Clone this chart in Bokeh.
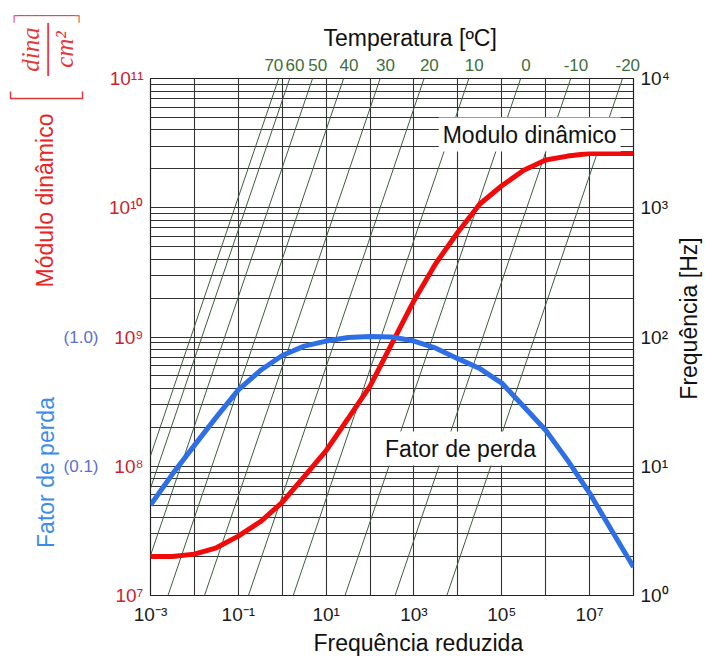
import numpy as np
from bokeh.plotting import figure
from bokeh.layouts import row
from bokeh.models import (Range1d, LogScale, LogAxis, FixedTicker, Label, Title)
from bokeh.core.properties import value
from bokeh.embed import file_html
from bokeh.resources import INLINE

# ---------------- data ----------------
# reduced frequency for the dynamic modulus curve
mod_freq = [1e-3, 3.16e-3, 1e-2, 3.16e-2, 1e-1, 3.16e-1, 1e0, 3.16e0, 1e1, 3.16e1, 1e2,
            3.16e2, 1e3, 3.16e3, 1e4, 3.16e4, 1e5, 3.16e5, 1e6, 3.16e6, 1e7, 1e8]
# dynamic modulus [dina/cm^2]
modulus = [2.0e7, 2.0e7, 2.09e7, 2.34e7, 2.88e7, 3.72e7, 5.25e7, 8.32e7, 1.32e8, 2.34e8, 4.17e8,
           8.91e8, 1.91e9, 3.72e9, 6.46e9, 1.07e10, 1.48e10, 1.95e10, 2.34e10, 2.51e10, 2.63e10, 2.63e10]

# reduced frequency for the loss factor curve
loss_freq = [1e-3, 3.16e-3, 1e-2, 3.16e-2, 1e-1, 3.16e-1, 1e0, 3.16e0, 1e1, 3.16e1, 1e2,
             3.16e2, 1e3, 3.16e3, 1e4, 3.16e4, 1e5, 3.16e5, 1e6, 3.16e6, 1e7, 3.16e7, 1e8]
loss_factor = [0.050, 0.087, 0.145, 0.24, 0.39, 0.55, 0.72, 0.85, 0.93, 0.99, 1.01,
               1.00, 0.93, 0.82, 0.68, 0.57, 0.44, 0.29, 0.19, 0.111, 0.062, 0.032, 0.0166]

# isotherms: temperature [ºC] and shift factor aT  (f_reduced = aT * f)
temps = ["70", "60", "50", "40", "30", "20", "10", "0", "-10", "-20"]
shift_factor = [8.3e-5, 1.48e-4, 4.9e-4, 2.5e-3, 1.7e-2, 0.17, 1.78, 26.9, 372.0, 5620.0]

# axis tick exponents
x_label_exp = [-3, -1, 1, 3, 5, 7]
x_grid_exp = list(range(-3, 9))
mod_exp = [7, 8, 9, 10, 11]
freq_exp = [0, 1, 2, 3, 4]
loss_ticks = [0.1, 1.0]
loss_labels = ["(0.1)", "(1.0)"]

# ---------------- layout constants ----------------
W, H = 705, 659
LW, RW = 106, 31                # widths of the left / right text strips
FL, FR, BT, BB = 147, 633, 78, 64  # frame left/right (page px), top/bottom borders
FW, FH = FR - FL, H - BT - BB
FR_MIN, FR_MAX = 1e-3, 1e8
MOD_MIN, MOD_MAX = 1e7, 1e11
F_MIN, F_MAX = 1.0, 1e4
L_MIN, L_MAX = 1e-2, 1e2
FONT = "Liberation Sans"

SUP = str.maketrans("-0123456789", "⁻⁰¹²³⁴⁵⁶⁷⁸⁹")
def pow10(e):
    return "10" + str(e).translate(SUP)

def x_at(px):
    return 10 ** (np.log10(FR_MIN) + (px - FL) / FW * np.log10(FR_MAX / FR_MIN))

def y_at(py):
    return 10 ** (np.log10(MOD_MAX) - (py - BT) / FH * np.log10(MOD_MAX / MOD_MIN))

# ================= main chart =================
p = figure(width=W - LW - RW, height=H, x_axis_type="log", y_axis_type="log",
           x_range=Range1d(FR_MIN, FR_MAX), y_range=Range1d(MOD_MIN, MOD_MAX),
           output_backend="svg", toolbar_location=None,
           min_border_left=FL - LW, min_border_right=W - RW - FR,
           min_border_top=BT, min_border_bottom=BB)
p.extra_y_ranges = {"freq": Range1d(F_MIN, F_MAX), "loss": Range1d(L_MIN, L_MAX)}
p.extra_y_scales = {"freq": LogScale(), "loss": LogScale()}
p.background_fill_color = "white"
p.border_fill_color = "white"
p.outline_line_color = "#222222"
p.outline_line_width = 1.2

# grid
p.xgrid[0].ticker = FixedTicker(ticks=[10.0 ** e for e in x_grid_exp])
ygrid_ticks = [m * 10.0 ** e for e in mod_exp[:-1] for m in range(1, 10)] + [MOD_MAX]
p.ygrid[0].ticker = FixedTicker(ticks=ygrid_ticks)
for g in (p.xgrid[0], p.ygrid[0]):
    g.grid_line_color = "#333333"
    g.grid_line_width = 1.1
    g.grid_line_alpha = 1.0

def style_axis(ax, color, size="19px"):
    ax.axis_line_color = None
    ax.major_tick_line_color = None
    ax.minor_tick_line_color = None
    ax.major_tick_out = 0
    ax.major_tick_in = 0
    ax.minor_tick_out = 0
    ax.minor_tick_in = 0
    ax.major_label_text_font = FONT
    ax.major_label_text_font_size = size
    ax.major_label_text_color = color

# bottom axis
xa = p.xaxis[0]
xt = [10.0 ** e for e in x_label_exp]
xa.ticker = FixedTicker(ticks=xt)
xa.major_label_overrides = {t: pow10(e) for t, e in zip(xt, x_label_exp)}
style_axis(xa, "#1a1a1a")
xa.major_label_standoff = 8

# left modulus axis (red)
ya = p.yaxis[0]
yt = [10.0 ** e for e in mod_exp]
ya.ticker = FixedTicker(ticks=yt)
ya.major_label_overrides = {t: pow10(e) for t, e in zip(yt, mod_exp)}
style_axis(ya, "#cc1f30")
ya.major_label_standoff = 7

# right frequency axis
ra = LogAxis(y_range_name="freq")
rt = [10.0 ** e for e in freq_exp]
ra.ticker = FixedTicker(ticks=rt)
ra.major_label_overrides = {t: pow10(e) for t, e in zip(rt, freq_exp)}
style_axis(ra, "#1a1a1a")
ra.major_label_standoff = 7
p.add_layout(ra, "right")

# isotherms
aT = np.array(shift_factor)
p.segment(x0=aT * F_MIN, y0=F_MIN, x1=aT * F_MAX, y1=F_MAX, y_range_name="freq",
          line_color="#3e5e3e", line_width=1)

# curves
p.line(mod_freq, modulus, line_color="#f00a0a", line_width=5)
p.line(loss_freq, loss_factor, y_range_name="loss", line_color="#2f6fe6", line_width=5)

# temperature axis on top: each label where its isotherm meets the label row
LABEL_ROW = 10 ** 4.12
nudge_dec = {"70": -0.23}
t_pos = [float(a * LABEL_ROW * 10 ** nudge_dec.get(t, 0)) for a, t in zip(aT, temps)]
ta = LogAxis(ticker=FixedTicker(ticks=t_pos))
ta.major_label_overrides = {x: t for x, t in zip(t_pos, temps)}
style_axis(ta, "#3f6e3a", "17px")
ta.major_label_standoff = 8
p.add_layout(ta, "above")

def title(text, loc, offset, color="#111111", size="23px", standoff=0):
    t = Title(text=text, align="left", offset=offset, text_font=FONT, text_font_size=size,
              text_font_style="normal", text_color=color, standoff=standoff)
    p.add_layout(t, loc)

title("Temperatura [ºC]", "above", 320 - FL, standoff=10)
title("Frequência reduzida", "below", 310 - FL)

# curve name boxes (inside the frame)
p.add_layout(Label(x=x_at(437), y=y_at(134), text="Modulo dinâmico", text_font=FONT,
                   text_font_size="23px", text_color="#111111", text_baseline="middle",
                   background_fill_color="white", padding=4))
p.add_layout(Label(x=x_at(379), y=y_at(448), text="Fator de perda", text_font=FONT,
                   text_font_size="23px", text_color="#111111", text_baseline="middle",
                   background_fill_color="white", padding=4))

# ================= text strips =================
# Their frames are aligned with the main frame by the row layout, so the y range maps
# page pixels (y downwards) from the frame top BT to the frame bottom H - BB.
def strip(x0, width):
    s = figure(width=width, height=H, x_range=Range1d(x0, x0 + width),
               y_range=Range1d(H - BB, BT),
               x_axis_location=None, y_axis_location=None,
               output_backend="svg", toolbar_location=None,
               min_border_left=0, min_border_right=0, min_border_top=0, min_border_bottom=0)
    s.xgrid.visible = False
    s.ygrid.visible = False
    s.outline_line_color = None
    s.background_fill_color = "white"
    s.border_fill_color = "white"
    return s

# ----- left strip: vertical titles, unit, loss-factor scale -----
q = strip(0, LW)
q.extra_y_ranges = {"loss": Range1d(L_MIN, L_MAX)}
q.extra_y_scales = {"loss": LogScale()}
q.text(x=[LW - 8] * len(loss_ticks), y=loss_ticks, text=loss_labels, y_range_name="loss",
       text_font=value(FONT), text_font_size="17px", text_color="#5a6fd2",
       text_align="right", text_baseline="middle")
q.text(x=[44], y=[200], text=["Módulo dinâmico"], angle=np.pi / 2,
       text_font=value(FONT), text_font_size="23px", text_color="#e82424",
       text_align="center", text_baseline="middle")
q.text(x=[45], y=[472], text=["Fator de perda"], angle=np.pi / 2,
       text_font=value(FONT), text_font_size="23px", text_color="#3d8be8",
       text_align="center", text_baseline="middle")

UNIT_RED = "#e03a3a"
# lower bracket lies inside the strip frame
q.multi_line(xs=[[10, 10, 82, 82]], ys=[[91, 98, 98, 91]], line_color=UNIT_RED, line_width=1.5)
# fraction and upper bracket lie above the frame: labels in the strip's top panel
q.add_layout(Label(x=47, y=49, text="dina\n───\ncm²", angle=np.pi / 2,
                   text_font="Liberation Serif", text_font_style="italic",
                   text_font_size="25px", text_color=UNIT_RED, text_align="center",
                   text_baseline="middle", text_line_height=0.64), "above")
q.add_layout(Label(x=46, y=15, text="┌────────┐", text_font="DejaVu Sans Mono",
                   text_font_size="12px", text_color=UNIT_RED, text_align="center",
                   text_baseline="middle"), "above")

# ----- right strip: frequency axis title -----
r = strip(W - RW, RW)
r.text(x=[688], y=[318], text=["Frequência [Hz]"], angle=np.pi / 2,
       text_font=value(FONT), text_font_size="23px", text_color="#111111",
       text_align="center", text_baseline="middle")

layout = row(q, p, r)
open("out.html", "w").write(file_html(layout, INLINE))
